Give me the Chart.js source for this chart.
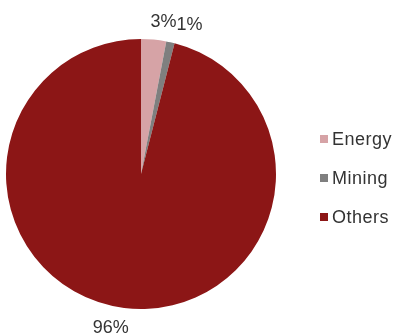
<!DOCTYPE html>
<html>
<head>
<meta charset="utf-8">
<script src="https://cdn.jsdelivr.net/npm/chart.js@4/dist/chart.umd.min.js"></script>
<style>
  html, body { margin: 0; padding: 0; background: #fff; }
  #wrap { position: relative; width: 397px; height: 336px; }
  #grafico { position: absolute; left: 0; top: 0; }
  #leyenda { position: absolute; left: 320px; top: 129px; font-family: "Liberation Sans", Arial, sans-serif; font-size: 18px; color: #333; letter-spacing: 0.5px; }
  .item { display: flex; align-items: center; height: 20px; margin-bottom: 19px; }
  .item span.box { width: 8px; height: 8px; margin-right: 4px; margin-top: -1px; }
</style>
</head>
<body>
<div id="wrap">
  <canvas id="grafico" width="397" height="336"></canvas>
  <div id="leyenda"></div>
</div>
<script>
const categorias = ["Energy", "Mining", "Others"];
const valores = [3, 1, 96];
const colores = ["#d6a3a6", "#7f7f7f", "#8c1616"];

// leyenda
const leyenda = document.getElementById("leyenda");
categorias.forEach((c, i) => {
  leyenda.innerHTML += `<div class="item"><span class="box" style="background:${colores[i]}"></span>${c}</div>`;
});

// etiquetas de porcentaje fuera del pastel
const etiquetasFuera = {
  id: "etiquetasFuera",
  afterDatasetsDraw(chart) {
    const ctx = chart.ctx;
    const meta = chart.getDatasetMeta(0);
    const total = valores.reduce((a, b) => a + b, 0);
    ctx.save();
    ctx.font = "18px 'Liberation Sans', Arial, sans-serif";
    ctx.fillStyle = "#333";
    ctx.textAlign = "center";
    ctx.textBaseline = "middle";
    let finAnterior = null;
    meta.data.forEach((arc, i) => {
      const p = arc.getProps(["x", "y", "startAngle", "endAngle", "outerRadius"], true);
      const medio = (p.startAngle + p.endAngle) / 2;
      const texto = Math.round(valores[i] / total * 100) + "%";
      const w = ctx.measureText(texto).width;
      const r = p.outerRadius + 20;
      let x = p.x + Math.cos(medio) * r + Math.sign(Math.cos(medio)) * w * 0.3;
      const y = p.y + Math.sin(medio) * r + (Math.sin(medio) < 0 ? 2 : 0);
      if (finAnterior !== null && Math.sin(medio) < 0 && x - w / 2 < finAnterior) {
        x = finAnterior + w / 2;
      }
      ctx.fillText(texto, x, y);
      finAnterior = Math.sin(medio) < 0 ? x + w / 2 : null;
    });
    ctx.restore();
  }
};

new Chart(document.getElementById("grafico"), {
  type: "pie",
  data: {
    labels: categorias,
    datasets: [{
      data: valores,
      backgroundColor: colores,
      borderWidth: 0
    }]
  },
  options: {
    responsive: false,
    animation: false,
    layout: { padding: { left: 6, right: 121, top: 39, bottom: 27 } },
    plugins: {
      legend: { display: false },
      tooltip: { enabled: false }
    }
  },
  plugins: [etiquetasFuera]
});
</script>
</body>
</html>
